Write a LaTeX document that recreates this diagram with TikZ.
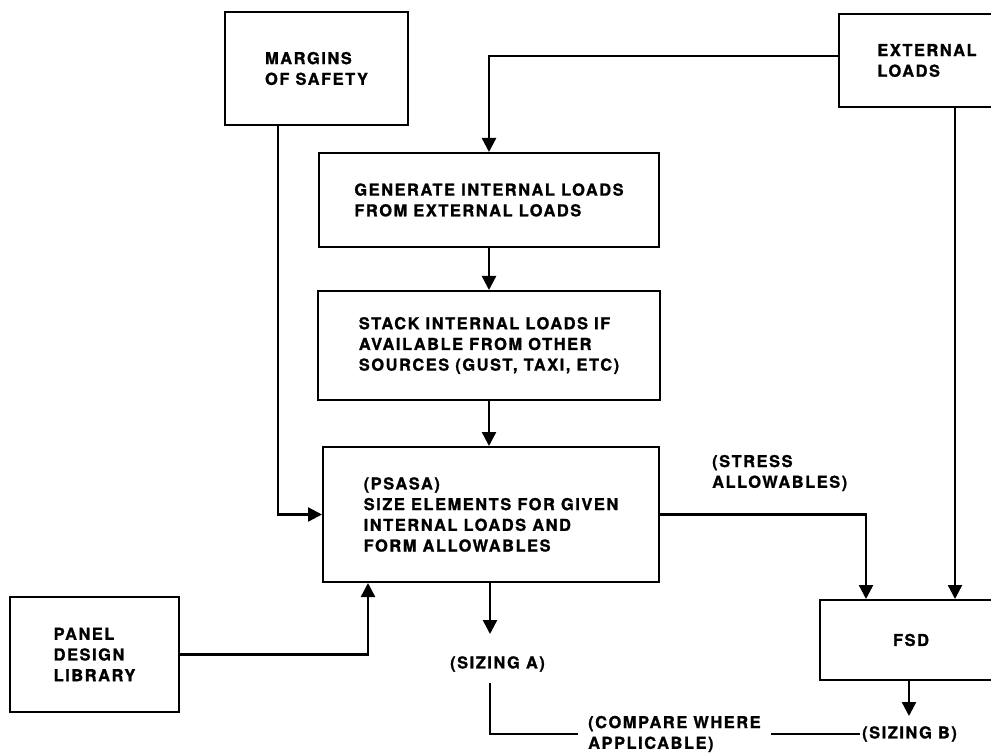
\documentclass[tikz,border=0pt]{standalone}
\usepackage{fontspec}
\setmainfont{TeX Gyre Heros}[LetterSpace=9.5, BoldFeatures={FakeBold=1.2}]
\usetikzlibrary{arrows.meta}
\newcommand\labelfont{\fontsize{16.4}{20.7}\selectfont\bfseries}
\tikzset{
  box/.style={draw, line width=2pt, align=left, font=\labelfont, inner sep=0pt},
  lbl/.style={align=left, font=\labelfont, inner sep=0pt},
  conn/.style={line width=2.4pt},
  arr/.style={conn, -{Triangle[length=14pt,width=14pt]}},
}
\begin{document}
\begin{tikzpicture}[x=1pt, y=-1pt]
  \useasboundingbox (0,0) rectangle (991,754);

  % process boxes
  \node[box, minimum width=183pt, minimum height=113pt] (marg) at (316.5,68.5) {MARGINS\\OF SAFETY};
  \node[box, minimum width=176pt, minimum height=93pt] (ext) at (927,60.5) {EXTERNAL\\LOADS};
  \node[box, minimum width=340pt, minimum height=94pt] (gen) at (489,200) {GENERATE INTERNAL LOADS\\FROM EXTERNAL LOADS};
  \node[box, minimum width=342pt, minimum height=109pt] (stack) at (489,345.5) {STACK INTERNAL LOADS IF\\AVAILABLE FROM OTHER\\SOURCES (GUST, TAXI, ETC)};
  \node[box, minimum width=336pt, minimum height=135pt] (psasa) at (491,514.5) {(PSASA)\\SIZE ELEMENTS FOR GIVEN\\INTERNAL LOADS AND\\FORM ALLOWABLES};
  \node[box, minimum width=169pt, minimum height=115pt] (panel) at (94.5,654.5) {PANEL\\DESIGN\\LIBRARY};
  \node[box, minimum width=182pt, minimum height=80pt] (fsd) at (911,640) {FSD};

  % free labels
  \node[lbl, anchor=west] (stress) at (712,473) {(STRESS\\ALLOWABLES)};
  \node[lbl] (sizA) at (497.5,664) {(SIZING A)};
  \node[lbl, anchor=west, inner xsep=10pt] (compare) at (578,734) {(COMPARE WHERE\\APPLICABLE)};
  \node[lbl, anchor=west, inner xsep=2pt] (sizB) at (860,734) {(SIZING B)};

  % connectors
  \draw[arr] ([yshift=4.5pt]ext.west) -| (gen.north);
  \draw[arr] (gen.south) -- (gen.south |- stack.north);
  \draw[arr] (stack.south) -- (stack.south |- psasa.north);
  \draw[arr] ([xshift=-38.5pt]marg.south) |- (psasa.west);
  \draw[arr] (panel.east) -| ([xshift=-123pt]psasa.south);
  \draw[arr] (psasa.east) -| ([xshift=-45pt]fsd.north);
  \draw[arr] ([xshift=28pt]ext.south) -- ([xshift=28pt]ext.south |- fsd.north);
  \draw[arr] ([xshift=-1pt]psasa.south) -- ++(0,51);
  \draw[arr] ([xshift=-2pt]fsd.south) -- ++(0,35);
  \draw[conn] ([shift={(-7.5,11)}]sizA.south) |- (compare.west);
  \draw[conn] (compare.east) -- (sizB.west);
\end{tikzpicture}
\end{document}
